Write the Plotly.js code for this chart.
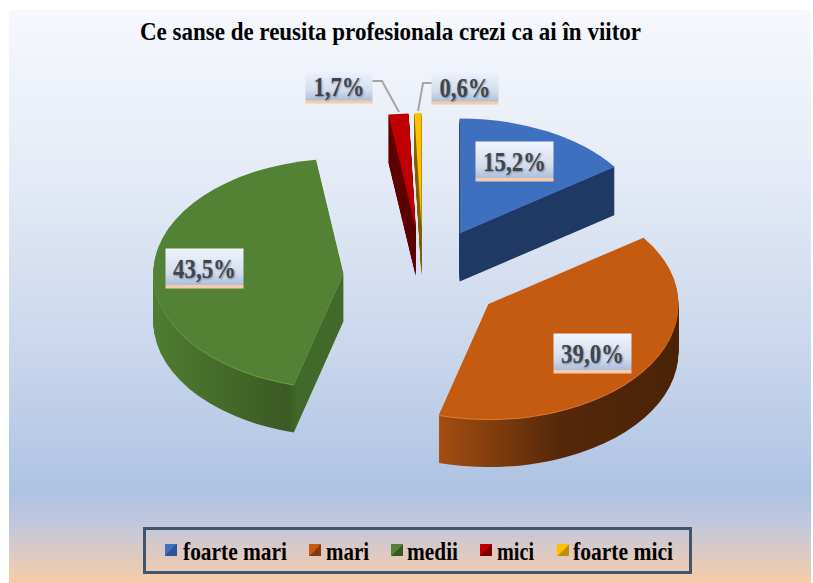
<!DOCTYPE html>
<html><head><meta charset="utf-8">
<script src="https://cdn.plot.ly/plotly-3.0.1.min.js"></script>
<style>
html,body{margin:0;padding:0;background:#fff;overflow:hidden}
#panel{position:absolute;left:9px;top:10px;width:802px;height:573px;
background:linear-gradient(180deg,#f6f8fd 0%,#e4eaf6 30%,#c9d6ec 60%,#aec3e3 84%,#c3c8dc 90%,#f8cca8 100%)}
#chart{position:absolute;left:0;top:0;width:813px;height:583px}
</style></head><body>
<div id="panel"></div><div id="chart"></div>
<script>
const chartTitle = "Ce sanse de reusita profesionala crezi ca ai în viitor";
const categories = ["foarte mari","mari","medii","mici","foarte mici"];
const values = [15.2,39.0,43.5,1.7,0.6];
const topColors = ["#3f70c0","#c55a11","#548235","#c00000","#ffc000"];
const darkSwatch = ["#2f5597","#843c0c","#385723","#7f0000","#bf9000"];
const rimEdge = ["#1f3864","#dc7a35","#6b9c49","#5c0000","#7f6000"];
const rimStops = [
  [[0,"#1f3864"],[1,"#1f3864"]],
  [[0,"#a44e10"],[0.5,"#55280a"],[1,"#4a2307"]],
  [[0,"#4f7d31"],[0.7,"#3a5a22"],[0.76,"#40692a"],[1,"#40692a"]],
  [[0,"#5c0000"],[1,"#5c0000"]],
  [[0,"#7f6000"],[1,"#7f6000"]]
];
const labelPos = [[514,162],[592,353],[204,268],[339,86],[465,88]];
const labelLen = [63,63,63,51,51];
const legendSwatchX = [171,315,397,486,563];
const legendTextX = [183,326,407,497,573];
const legendTextLen = [104,43,51,37,100];

const W=813,H=583, pull=0.42, rPre=150, S=2*rPre*(1+pull);
const sx=190/rPre, sy=115/rPre, depth=48, cx=423, cy=276.4;
const c0x=S/2+10, c0y=S/2+5;
const steps=48, stepPre=depth/sy/steps;
const traces=[];
for(let i=steps;i>=0;i--){
  const yc=c0y+i*stepPre;
  traces.push({type:'pie',labels:categories,values:values,sort:false,direction:'clockwise',rotation:0,
    pull:pull,textinfo:'none',hoverinfo:'skip',showlegend:i===0,
    marker:{colors:i===0?topColors:rimEdge,line:{width:0}},
    domain:{x:[(c0x-S/2)/W,(c0x+S/2)/W],y:[1-(yc+S/2)/H,1-(yc-S/2)/H]}});
}
const fmt=v=>v.toFixed(1).replace('.',',')+'%';
const annotations=values.map((v,i)=>{const big=labelLen[i]>55;return {xref:'paper',yref:'paper',
  x:labelPos[i][0]/W,y:1-labelPos[i][1]/H,xanchor:'center',yanchor:'middle',
  text:fmt(v),showarrow:false,bgcolor:'#cfdcef',borderpad:0,width:big?77:66,height:big?39:33,
  font:{family:'Liberation Serif',size:27,weight:700,color:'#3d4552'}};});
const line=(pts)=>({type:'path',xref:'paper',yref:'paper',layer:'above',line:{color:'#a6a6a6',width:2},
  path:'M'+pts.map(p=>(p[0]/W)+','+(1-p[1]/H)).join('L')});
const layout={width:W,height:H,margin:{l:0,r:0,t:0,b:0},paper_bgcolor:'rgba(0,0,0,0)',plot_bgcolor:'rgba(0,0,0,0)',
  title:{text:chartTitle,x:390.5/W,xanchor:'center',y:1-31/H,yanchor:'middle',
    font:{family:'Liberation Serif',size:26,weight:700,color:'#000'}},
  showlegend:true,
  legend:{orientation:'h',x:416/W,xanchor:'center',y:1-549.5/H,yanchor:'middle',bgcolor:'rgba(0,0,0,0)',
    bordercolor:'#44546a',borderwidth:3,font:{family:'Liberation Serif',size:25,weight:700,color:'#000'},
    traceorder:'normal',itemwidth:30},
  annotations:annotations,
  shapes:[line([[372,81],[382,81],[399,112]]),line([[432,83],[423,83],[418,111]])]};
Plotly.newPlot('chart',traces,layout,{displayModeBar:false,staticPlot:true}).then(()=>{
  const svgNS='http://www.w3.org/2000/svg';
  const svg=document.querySelector('#chart .main-svg');
  const defs=svg.querySelector('defs')||svg.insertBefore(document.createElementNS(svgNS,'defs'),svg.firstChild);
  const grad=(id,html,diag)=>{const g=document.createElementNS(svgNS,'linearGradient');g.setAttribute('id',id);
    if(diag==='v'){g.setAttribute('x2','0');g.setAttribute('y2','1');}
    if(diag==='d'){g.setAttribute('x2','1');g.setAttribute('y2','1');}
    g.innerHTML=html;defs.appendChild(g);};
  categories.forEach((c,i)=>{
    grad('rim'+i,rimStops[i].map(s=>'<stop offset="'+s[0]+'" stop-color="'+s[1]+'"/>').join(''));
    grad('sw'+i,'<stop offset=".5" stop-color="'+topColors[i]+'"/><stop offset=".5" stop-color="'+darkSwatch[i]+'"/>','d');
  });
  grad('lab','<stop offset="0" stop-color="#f0f4fb"/><stop offset=".6" stop-color="#d4deef"/><stop offset=".9" stop-color="#aec0de"/><stop offset=".92" stop-color="#f6cba8"/><stop offset="1" stop-color="#f6cba8"/>','v');
  const pl=document.querySelector('#chart .pielayer');
  pl.setAttribute('transform','translate('+cx+','+cy+') scale('+sx+','+sy+') translate('+(-c0x)+','+(-c0y)+')');
  const groups=pl.querySelectorAll('g.trace');
  groups.forEach((g,gi)=>{ if(gi>=groups.length-2) return;
    g.querySelectorAll('g.slice path.surface').forEach((p,i)=>{p.style.fill='url(#rim'+i+')';});
  });
  document.querySelectorAll('#chart .annotation-text-g rect.bg').forEach(r=>{r.style.fill='url(#lab)';});
  document.querySelectorAll('#chart .annotation-text-g text').forEach((t,i)=>{
    t.setAttribute('textLength',labelLen[i]);t.setAttribute('lengthAdjust','spacingAndGlyphs');
    t.style.textShadow='1px 1px 2px rgba(60,60,60,.5)';});
  const tt=document.querySelector('#chart .gtitle');
  if(tt){tt.setAttribute('textLength',501);tt.setAttribute('lengthAdjust','spacingAndGlyphs');}
  const leg=document.querySelector('#chart .legend');
  leg.setAttribute('transform','translate(143,527)');
  const bg=leg.querySelector('rect.bg');
  bg.setAttribute('x',1.5);bg.setAttribute('y',1.5);bg.setAttribute('width',546);bg.setAttribute('height',44);
  const sb=leg.querySelector('.scrollbox');
  sb.removeAttribute('clip-path');sb.setAttribute('transform','translate(0,0)');
  leg.querySelectorAll('g.traces').forEach((t,i)=>{
    t.setAttribute('transform','translate('+(legendSwatchX[i]-20-143)+',23)');
    const tx=t.querySelector('text.legendtext');
    tx.setAttribute('x',legendTextX[i]-(legendSwatchX[i]-20));
    tx.setAttribute('textLength',legendTextLen[i]);tx.setAttribute('lengthAdjust','spacingAndGlyphs');
    const p=t.querySelector('path.legendpie');
    if(p){p.style.fill='url(#sw'+i+')';}
  });
});
</script></body></html>
